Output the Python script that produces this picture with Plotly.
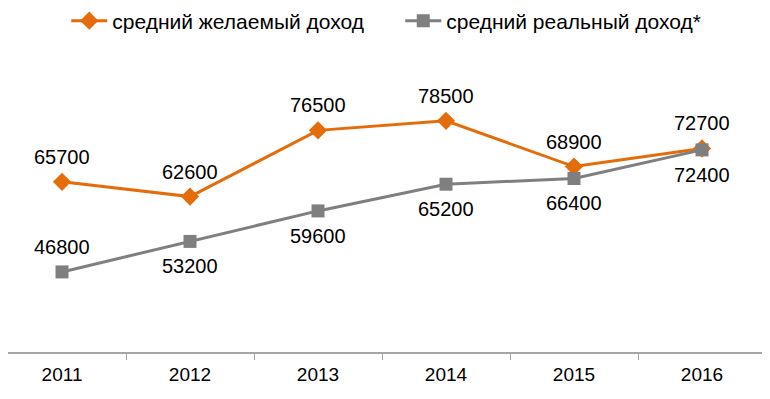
import plotly.graph_objects as go

years = ["2011", "2012", "2013", "2014", "2015", "2016"]
desired = [65700, 62600, 76500, 78500, 68900, 72700]
real = [46800, 53200, 59600, 65200, 66400, 72400]
desired_name = "средний желаемый доход"
real_name = "средний реальный доход*"
real_label_above = [True, False, False, False, False, False]

ORANGE = "#E46C0A"
GREY = "#7F7F7F"
FONT = "Liberation Sans, Arial, sans-serif"

fig = go.Figure()
fig.add_trace(go.Scatter(
    x=years, y=desired, name=desired_name, mode="lines+markers",
    line=dict(color=ORANGE, width=3),
    marker=dict(symbol="diamond", size=14, color=ORANGE),
))
fig.add_trace(go.Scatter(
    x=years, y=real, name=real_name, mode="lines+markers",
    line=dict(color=GREY, width=3),
    marker=dict(symbol="square", size=13, color=GREY),
))

annotations = []
for i, v in enumerate(desired):
    annotations.append(dict(x=i, y=v, xref="x", yref="y", text=str(v), showarrow=False,
                            yshift=25, font=dict(size=20, color="#000000", family=FONT)))
for i, (v, above) in enumerate(zip(real, real_label_above)):
    annotations.append(dict(x=i, y=v, xref="x", yref="y", text=str(v), showarrow=False,
                            yshift=25 if above else -25,
                            font=dict(size=20, color="#000000", family=FONT)))

fig.update_layout(
    width=770, height=399,
    margin=dict(l=0, r=12, t=58, b=55, autoexpand=False),
    paper_bgcolor="white", plot_bgcolor="white",
    font=dict(family=FONT, color="#000000"),
    showlegend=True,
    legend=dict(orientation="h", x=0.5175, xanchor="center", y=0.9674, yanchor="middle",
                yref="container", font=dict(size=21, color="#000000"),
                itemwidth=36, entrywidth=283, bgcolor="rgba(0,0,0,0)"),
    annotations=annotations,
)
fig.update_xaxes(
    type="category", range=[-0.422, 5.5],
    showline=True, linecolor="#A6A6A6", linewidth=1.5,
    ticks="outside", tickson="boundaries", ticklen=6, tickcolor="#A6A6A6",
    ticklabelstandoff=4,
    showgrid=False, zeroline=False,
    tickfont=dict(size=19, color="#000000", family=FONT),
)
fig.update_yaxes(range=[30000, 90000], visible=False, showgrid=False, zeroline=False)

fig.write_html("out.html")
